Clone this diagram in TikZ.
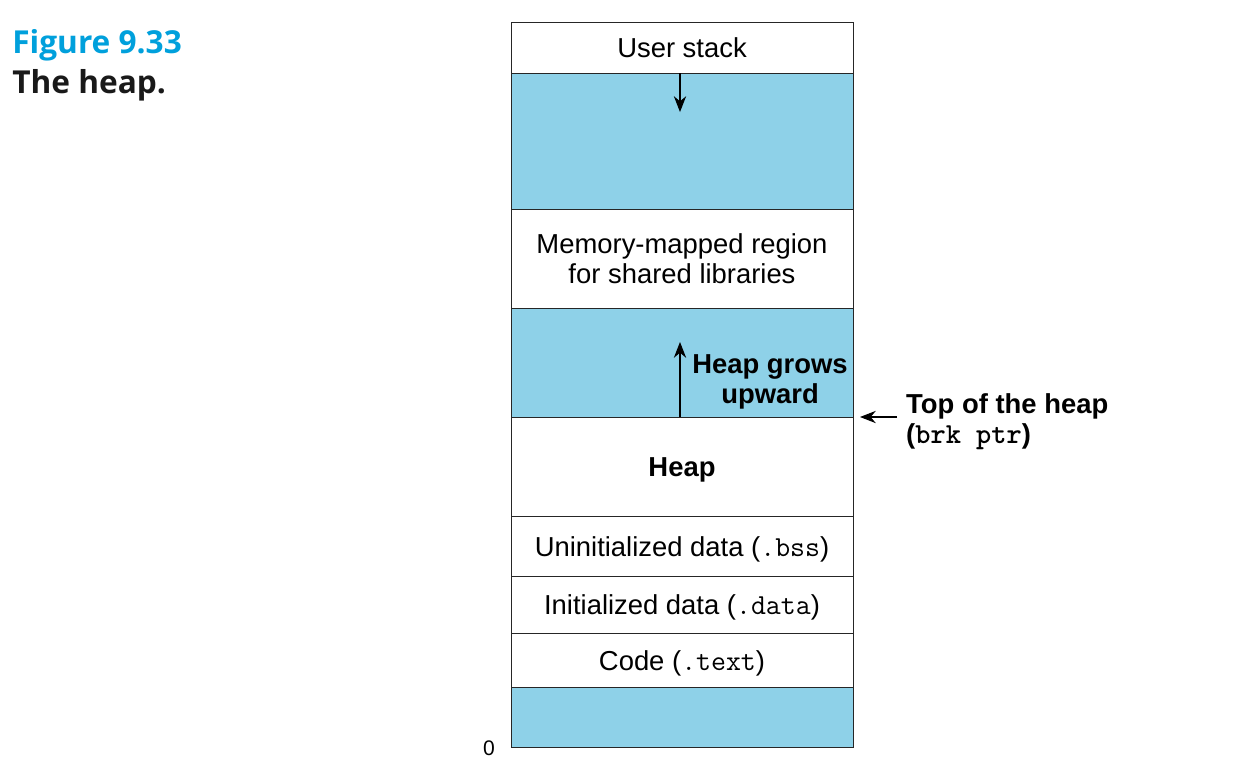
\documentclass[tikz,border=0pt]{standalone}
\usepackage{fontspec}
\setmainfont{Liberation Sans}
\newfontfamily\titlefont{Open Sans}
\usepackage{xcolor}
\usetikzlibrary{arrows.meta, positioning}
\definecolor{segblue}{RGB}{142,209,232}
\definecolor{figblue}{RGB}{0,160,220}
\newcommand\code[1]{{\fontsize{16.5}{17}\selectfont\ttfamily #1}}

\begin{document}
\begin{tikzpicture}[
  seg/.style={rectangle, draw=black!85, line width=0.5pt, minimum width=6.84cm, inner sep=0pt, outer sep=0pt, align=center, fill=white, font=\fontsize{15.6}{17}\selectfont},
  oneline/.style={text height=0.4cm, text depth=0cm},
  gap/.style={seg, fill=segblue},
  lbl/.style={align=left, font=\fontsize{15.6}{17}\selectfont\bfseries},
  >={Stealth[length=9pt, width=7pt]},
  node distance=0pt
]
  \fill[white] (0,0) rectangle (24.96,-15.52);
  \useasboundingbox (0,0) rectangle (24.96,-15.52);

  % title
  \node[anchor=west, align=left, inner sep=0pt, font=\titlefont\fontsize{18}{23}\selectfont\bfseries] (title) at (0.24,-1.3)
    {\textcolor{figblue}{Figure 9.33}\\\textcolor{black!90}{The heap.}};

  % memory segments, top to bottom
  \node[seg, oneline, anchor=north, minimum height=1.02cm] (ustack) at (13.64,-0.44) {User stack};
  \node[gap, below=of ustack, minimum height=2.72cm] (free1) {};
  \node[seg, below=of free1, minimum height=1.98cm] (mmap) {Memory-mapped region\\for shared libraries};
  \node[gap, below=of mmap, minimum height=2.18cm] (free2) {};
  \node[seg, oneline, below=of free2, minimum height=1.98cm, font=\fontsize{15.6}{17}\selectfont\bfseries] (heap) {Heap};
  \node[seg, oneline, below=of heap, minimum height=1.2cm] (bss) {Uninitialized data (\code{.bss})};
  \node[seg, oneline, below=of bss, minimum height=1.14cm] (data) {Initialized data (\code{.data})};
  \node[seg, oneline, below=of data, minimum height=1.08cm] (text) {Code (\code{.text})};
  \node[gap, below=of text, minimum height=1.2cm] (free3) {};

  \node[font=\fontsize{12}{14}\selectfont, anchor=base] (zero) at (9.78,-15.1) {0};

  % growth arrows
  \coordinate (stackend) at (13.6,-2.24);
  \draw[->, line width=0.6pt] (ustack.south -| stackend) -- (stackend);
  \coordinate (heapend) at (13.6,-6.84);
  \draw[->, line width=0.6pt] (heap.north -| heapend) -- (heapend);
  \node[lbl, align=center] (grows) at (15.4,-7.64) {Heap grows\\upward};

  % brk pointer
  \node[lbl, anchor=west] (brk) at (18.0,-8.44) {Top of the heap\\(\code{\bfseries brk ptr})};
  \coordinate (brktip) at (17.2,-8.34);
  \draw[->, line width=0.6pt, shorten <=0.06cm] (brk.west |- brktip) -- (brktip);
\end{tikzpicture}
\end{document}
